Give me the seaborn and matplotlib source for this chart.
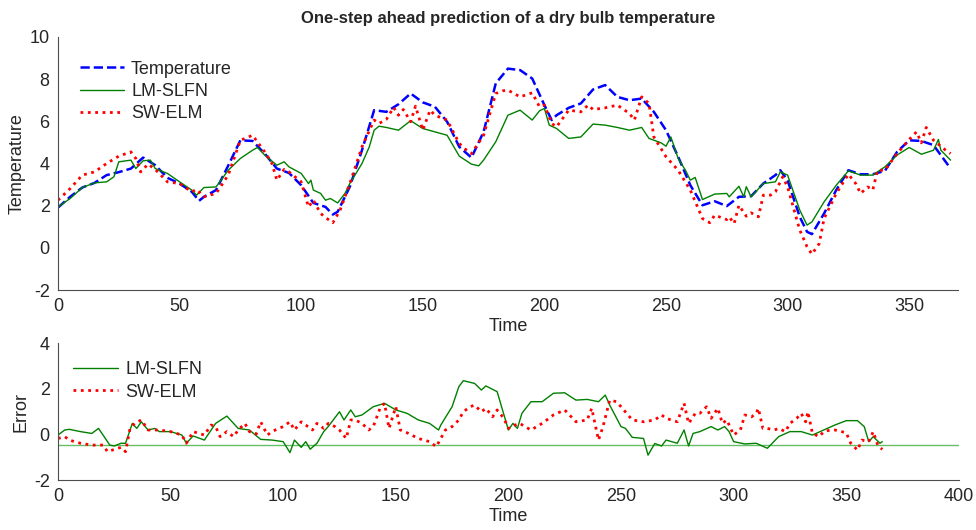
"""
One-step ahead prediction of a dry bulb temperature
Top: measured temperature vs two model predictions, bottom: prediction errors
"""

import numpy as np
import pandas as pd
import matplotlib
matplotlib.use('Agg')
import matplotlib.pyplot as plt
import seaborn as sns

# ---- data ----
temp_t = [0, 5, 10, 15, 20, 25, 30, 35, 40, 45, 50, 55, 58, 60, 65, 70, 75, 80, 85, 90,
          95, 100, 105, 110, 113, 115, 120, 125, 130, 135, 140, 145, 150, 155, 160, 165, 170, 175, 180, 185,
          190, 195, 200, 203, 205, 210, 215, 220, 225, 230, 235, 240, 245, 250, 255, 260, 265, 270, 275, 280,
          285, 290, 295, 297, 300, 305, 308, 310, 315, 320, 325, 330, 335, 340, 345, 350, 355, 360, 365, 367]
temp_v = [1.91, 2.42, 2.86, 3.08, 3.45, 3.59, 3.76, 4.28, 3.92, 3.32, 3.05, 2.66, 2.23, 2.42, 2.74, 3.9, 5.1, 5.07, 4.47, 3.76,
          3.55, 2.97, 2.13, 1.94, 1.58, 1.71, 2.9, 4.63, 6.53, 6.45, 6.81, 7.32, 6.9, 6.69, 5.98, 4.79, 4.28, 5.5, 7.8, 8.5,
          8.43, 8.03, 6.77, 6.06, 6.29, 6.64, 6.85, 7.51, 7.72, 7.16, 7.0, 7.08, 6.45, 5.58, 4.32, 2.97, 2.02, 2.21, 1.98, 2.42,
          2.45, 3.05, 3.45, 3.68, 3.2, 1.47, 0.76, 0.65, 1.63, 2.74, 3.68, 3.49, 3.49, 3.65, 4.55, 5.1, 5.07, 4.87, 4.08, 3.76]

lm_t = [0, 5, 10, 15, 20, 23, 25, 30, 32, 35, 38, 40, 45, 50, 55, 57, 60, 65, 70, 75,
        80, 82, 85, 90, 93, 95, 100, 103, 104, 105, 108, 110, 112, 115, 118, 120, 125, 128, 130, 132,
        135, 140, 145, 150, 155, 160, 165, 170, 173, 175, 180, 185, 190, 195, 198, 200, 202, 205, 210, 215,
        220, 225, 230, 235, 240, 243, 248, 250, 252, 255, 258, 260, 262, 265, 270, 275, 276, 280, 282, 283,
        285, 290, 295, 297, 300, 305, 308, 310, 315, 320, 325, 330, 335, 340, 345, 350, 355, 360, 362, 363, 367]
lm_v = [1.94, 2.34, 2.86, 3.08, 3.13, 3.37, 4.08, 4.16, 3.76, 4.13, 4.16, 3.76, 3.53, 3.13, 2.74, 2.5, 2.86, 2.89, 3.68, 4.24,
        4.63, 4.76, 4.4, 3.92, 4.08, 3.84, 3.53, 3.05, 3.21, 2.74, 2.58, 2.26, 2.34, 2.13, 2.58, 3.05, 4.0, 4.79, 5.58, 5.77,
        5.71, 5.58, 6.03, 5.66, 5.5, 5.34, 4.35, 3.97, 3.89, 4.16, 5.03, 6.29, 6.53, 6.06, 6.5, 6.61, 5.82, 5.66, 5.19, 5.26,
        5.87, 5.82, 5.71, 5.58, 5.71, 5.19, 4.98, 4.82, 5.26, 4.24, 3.68, 3.21, 3.34, 2.29, 2.55, 2.58, 2.42, 2.92, 2.42, 2.9,
        2.42, 3.05, 3.13, 3.6, 3.45, 1.79, 1.08, 1.23, 2.18, 2.97, 3.65, 3.45, 3.45, 3.84, 4.4, 4.76, 4.44, 4.63, 5.14, 4.63, 4.16]

sw_t = [0, 5, 10, 15, 20, 25, 30, 32, 34, 37, 40, 45, 50, 55, 57, 60, 65, 70, 75, 80,
        85, 88, 90, 93, 95, 100, 103, 105, 108, 110, 113, 116, 120, 125, 130, 132, 135, 138, 140, 142,
        145, 147, 150, 153, 155, 160, 165, 168, 170, 175, 180, 183, 185, 190, 195, 198, 200, 203, 205, 210,
        215, 218, 220, 225, 230, 235, 237, 240, 243, 245, 250, 255, 260, 265, 268, 270, 275, 276, 278, 280,
        283, 285, 288, 290, 293, 295, 298, 300, 305, 308, 310, 313, 315, 320, 325, 328, 330, 333, 335, 337,
        340, 345, 350, 353, 355, 357, 360, 365, 367]
sw_v = [2.26, 2.81, 3.45, 3.6, 4.0, 4.35, 4.55, 4.24, 3.6, 3.97, 3.72, 3.13, 3.05, 2.66, 2.77, 2.42, 2.58, 3.45, 5.1, 5.34,
        4.55, 4.0, 3.21, 3.72, 3.6, 3.13, 1.94, 2.26, 1.63, 1.44, 1.19, 1.79, 3.05, 4.79, 6.06, 5.9, 6.09, 6.66, 6.29, 6.56,
        5.98, 6.72, 5.58, 6.53, 6.29, 6.06, 4.95, 4.63, 4.47, 5.34, 7.32, 7.45, 7.48, 7.16, 7.35, 6.69, 6.77, 5.9, 5.74, 6.53,
        6.45, 6.77, 6.56, 6.64, 6.77, 6.37, 6.06, 7.16, 6.85, 5.26, 4.32, 3.68, 2.74, 1.39, 1.19, 1.55, 1.34, 1.47, 1.15, 2.02,
        1.5, 1.66, 1.47, 2.5, 2.5, 2.66, 3.37, 2.89, 0.84, 0.05, -0.3, 0.2, 1.39, 2.58, 3.49, 3.05, 2.58, 2.89, 2.74, 3.68,
        3.68, 4.47, 5.14, 5.5, 4.98, 5.71, 5.1, 4.63, 4.47]

lm_err_t = [0, 3, 5, 10, 15, 18, 20, 23, 25, 28, 30, 33, 35, 37, 40, 43, 45, 48, 50, 55,
            57, 60, 65, 70, 75, 80, 85, 90, 95, 100, 103, 105, 108, 110, 112, 115, 118, 120, 125, 127,
            130, 132, 135, 140, 145, 150, 155, 160, 165, 169, 170, 175, 178, 180, 185, 188, 190, 195, 200, 202,
            204, 206, 210, 215, 220, 225, 230, 235, 240, 243, 245, 250, 252, 255, 260, 262, 265, 268, 270, 275,
            278, 280, 282, 285, 290, 293, 296, 298, 300, 305, 310, 315, 320, 325, 330, 335, 340, 345, 350, 355,
            358, 360, 362, 365, 366]
lm_err_v = [-0.03, 0.19, 0.22, 0.12, 0.04, 0.26, -0.03, -0.47, -0.51, -0.39, -0.39, 0.48, 0.26, 0.55, 0.19, 0.26, 0.12, 0.12, 0.12, -0.03,
            -0.39, -0.07, -0.25, 0.48, 0.8, 0.26, 0.19, -0.22, -0.25, -0.32, -0.8, -0.25, -0.57, -0.32, -0.65, -0.39, 0.12, 0.34, 0.99, 0.63,
            1.07, 0.77, 0.85, 1.21, 1.36, 1.07, 0.92, 0.63, 0.48, 0.19, 0.41, 1.21, 2.09, 2.35, 2.23, 1.94, 2.12, 1.87, 0.19, 0.48,
            0.26, 0.92, 1.43, 1.43, 1.8, 1.82, 1.5, 1.53, 1.43, 1.72, 1.28, 0.34, 0.26, -0.13, -0.18, -0.91, -0.4, -0.51, -0.25, -0.39,
            0.19, -0.51, 0.04, 0.12, 0.34, 0.19, 0.34, 0.12, -0.32, -0.42, -0.39, -0.61, -0.1, 0.12, 0.12, -0.03, 0.19, 0.41, 0.6, 0.6,
            0.34, -0.32, -0.1, -0.39, -0.32]

sw_err_t = [0, 3, 5, 10, 15, 20, 22, 25, 28, 30, 32, 34, 37, 40, 45, 50, 55, 57, 60, 65,
            68, 70, 72, 75, 78, 80, 83, 85, 88, 90, 93, 95, 98, 100, 103, 105, 108, 110, 113, 115,
            118, 120, 123, 125, 128, 130, 132, 135, 138, 140, 143, 145, 147, 150, 152, 155, 160, 165, 168, 172,
            175, 178, 180, 183, 185, 188, 190, 193, 195, 198, 200, 203, 205, 210, 215, 220, 225, 230, 235, 237,
            240, 242, 245, 248, 250, 255, 260, 265, 268, 270, 275, 278, 280, 283, 285, 288, 290, 293, 295, 297,
            300, 303, 305, 308, 310, 311, 313, 315, 318, 320, 323, 325, 328, 330, 332, 333, 335, 338, 340, 343,
            345, 348, 350, 352, 355, 357, 360, 362, 364, 366]
sw_err_v = [-0.18, -0.1, -0.25, -0.39, -0.47, -0.47, -0.76, -0.66, -0.57, -0.76, 0.26, 0.48, 0.63, 0.19, 0.19, 0.12, -0.03, -0.39, 0.12, -0.03,
            0.41, 0.34, -0.1, 0.12, -0.1, 0.19, 0.48, 0.12, 0.01, 0.55, -0.03, 0.12, 0.26, 0.34, 0.55, 0.19, 0.55, 0.41, 0.19, 0.48,
            0.26, 0.48, 0.34, 0.19, -0.18, 0.63, 0.63, 0.48, 0.19, 0.34, 1.14, 1.36, 0.26, 1.21, 0.19, 0.07, -0.18, -0.32, -0.54, 0.19,
            0.34, 0.63, 0.99, 1.21, 1.28, 0.99, 1.14, 0.77, 1.07, 0.7, 0.26, 0.41, 0.48, 0.19, 0.48, 0.85, 1.07, 0.55, 0.63, 1.14,
            -0.25, 0.34, 1.5, 1.43, 1.21, 0.63, 0.55, 0.63, 0.85, 0.7, 0.55, 1.36, 0.48, 0.92, 0.92, 1.21, 0.7, 1.14, 0.48, 0.63,
            -0.03, 0.19, 0.85, 0.77, 0.92, 1.14, 0.26, 0.26, 0.19, 0.26, 0.12, 0.48, 0.7, 0.92, 0.55, 0.99, 0.04, -0.1, 0.12, 0.19,
            0.19, 0.12, 0.07, -0.39, -0.69, -0.25, -0.32, 0.12, -0.47, -0.66]

error_ref = -0.45  # flat reference line in the error panel

# ---- style ----
sns.set_style("white")
plt.rcParams['font.family'] = ['Liberation Sans', 'DejaVu Sans']
plt.rcParams['axes.unicode_minus'] = False
plt.rcParams['axes.edgecolor'] = '0.3'
plt.rcParams['xtick.color'] = '0.3'
plt.rcParams['ytick.color'] = '0.3'
plt.rcParams['xtick.labelcolor'] = '0.15'
plt.rcParams['ytick.labelcolor'] = '0.15'

blue = (0, 0, 1)
green = (0, 0.5, 0)
red = (1, 0, 0)

fig = plt.figure(figsize=(9.76, 5.30), dpi=100)
ax1 = fig.add_axes([0.0594, 0.4528, 0.922, 0.4774])
ax2 = fig.add_axes([0.0594, 0.0943, 0.923, 0.2585])

# top panel
sns.lineplot(x=temp_t, y=temp_v, ax=ax1, color=blue, linestyle='--', linewidth=1.8, label='Temperature')
sns.lineplot(x=lm_t, y=lm_v, ax=ax1, color=green, linestyle='-', linewidth=1.0, label='LM-SLFN')
sns.lineplot(x=sw_t, y=sw_v, ax=ax1, color=red, linestyle=':', linewidth=2.0, label='SW-ELM')

ax1.set_xlim(0, 370)
ax1.set_ylim(-2, 10)
ax1.set_xticks(np.arange(0, 351, 50))
ax1.set_yticks(np.arange(-2, 11, 2))
ax1.set_title('One-step ahead prediction of a dry bulb temperature', fontsize=12, fontweight='bold', pad=10)
ax1.set_xlabel('Time', fontsize=13, labelpad=2)
ax1.set_ylabel('Temperature', fontsize=13, labelpad=3)
ax1.legend(loc='upper left', bbox_to_anchor=(0.017, 0.935), frameon=False, fontsize=13,
           handlelength=2.4, labelspacing=0.3, borderaxespad=0, handletextpad=0.4)

# bottom panel
ax2.axhline(error_ref, color=(0.4, 0.75, 0.4), linewidth=1.0, zorder=1)
sns.lineplot(x=lm_err_t, y=lm_err_v, ax=ax2, color=green, linestyle='-', linewidth=1.0, label='LM-SLFN')
sns.lineplot(x=sw_err_t, y=sw_err_v, ax=ax2, color=red, linestyle=':', linewidth=2.0, label='SW-ELM')

ax2.set_xlim(0, 400)
ax2.set_ylim(-2, 4)
ax2.set_xticks(np.arange(0, 401, 50))
ax2.set_yticks(np.arange(-2, 5, 2))
ax2.set_xlabel('Time', fontsize=13, labelpad=2)
ax2.set_ylabel('Error', fontsize=13, labelpad=3)
ax2.legend(loc='upper left', bbox_to_anchor=(0.009, 0.92), frameon=False, fontsize=13,
           handlelength=2.5, labelspacing=0.3, borderaxespad=0, handletextpad=0.4)

for ax in (ax1, ax2):
    sns.despine(ax=ax)
    ax.tick_params(direction='in', length=5, width=0.8, labelsize=13, pad=6)
    ax.grid(False)

plt.savefig('out.png', dpi=100)
